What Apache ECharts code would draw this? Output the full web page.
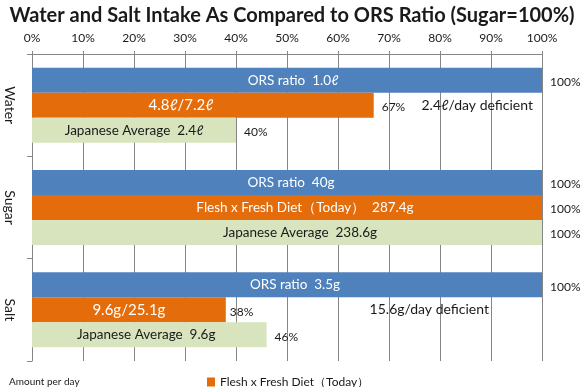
<!DOCTYPE html>
<html>
<head>
<meta charset="utf-8">
<script src="https://cdn.jsdelivr.net/npm/echarts@6/dist/echarts.min.js"></script>
<style>html,body{margin:0;padding:0;background:#fff}#c{width:584px;height:387px}</style>
</head>
<body>
<div id="c"></div>
<script>
const categories = ['Water', 'Sugar', 'Salt'];
const seriesNames = ['ORS ratio', 'Flesh x Fresh Diet（Today）', 'Japanese Average'];
const orsValues = [100, 100, 100];
const dietValues = [67, 100, 38];
const avgValues = [40, 100, 46];
const orsLabels = ['ORS ratio  1.0ℓ', 'ORS ratio  40g', 'ORS ratio  3.5g'];
const dietLabels = ['4.8ℓ/7.2ℓ', 'Flesh x Fresh Diet（Today）  287.4g', '9.6g/25.1g'];
const avgLabels = ['Japanese Average  2.4ℓ', 'Japanese Average  238.6g', 'Japanese Average  9.6g'];
const deficitNotes = ['2.4ℓ/day deficient', '', '15.6g/day deficient'];
const deficitNoteAt = [87.3, null, 77.9];
const tickLabels = ['0%', '10%', '20%', '30%', '40%', '50%', '60%', '70%', '80%', '90%', '100%'];

const FONT = 'Lato';
const colors = ['#4F81BD', '#E46C0A', '#D7E4BD'];
const innerColors = ['#fff', '#fff', '#1a1a1a'];
const innerSizes = [[13.5, 13.5, 13.5], [15, 13.5, 15], [13.5, 13.5, 13.5]];
const innerOffsets = [[6, 4, 8], [-22, 18, 0], [0, 13, -3]];
const outerDistances = [[8, 8, 8], [8, 8, 4], [8, 8, 8]];

const valueSets = [orsValues, dietValues, avgValues];
const labelSets = [orsLabels, dietLabels, avgLabels];

const series = [];
valueSets.forEach((vals, s) => {
  series.push({
    name: seriesNames[s],
    type: 'bar',
    xAxisIndex: 0, yAxisIndex: 0,
    barWidth: 25, barGap: '0%',
    itemStyle: { color: colors[s] },
    silent: true,
    data: vals.map((v, i) => ({
      value: v,
      label: {
        show: true, position: 'inside',
        formatter: labelSets[s][i],
        color: innerColors[s],
        fontFamily: FONT,
        fontSize: innerSizes[s][i],
        offset: [innerOffsets[s][i], 0]
      }
    }))
  });
});
// overlay (transparent) bars carrying the outside percentage labels
valueSets.forEach((vals, s) => {
  const ser = {
    name: seriesNames[s] + ' %',
    type: 'bar',
    xAxisIndex: 1, yAxisIndex: 1,
    barWidth: 25, barGap: '0%',
    itemStyle: { color: 'rgba(0,0,0,0)' },
    silent: true,
    data: vals.map((v, i) => ({
      value: v,
      label: {
        show: true, position: 'right',
        distance: outerDistances[s][i],
        formatter: v + '%',
        color: '#1a1a1a', fontFamily: FONT, fontSize: 12,
        offset: [0, 2]
      }
    }))
  };
  if (s === 1) {
    ser.markPoint = {
      symbol: 'circle', symbolSize: 1,
      itemStyle: { color: 'rgba(0,0,0,0)' },
      silent: true,
      data: deficitNotes.map((t, i) => t ? {
        coord: [deficitNoteAt[i], categories[i]],
        label: { show: true, position: 'inside', formatter: t, color: '#1a1a1a', fontFamily: FONT, fontSize: 14 }
      } : null).filter(Boolean)
    };
  }
  series.push(ser);
});

const chart = echarts.init(document.getElementById('c'), null, { renderer: 'canvas' });
chart.setOption({
  animation: false,
  title: [
    { text: 'Water and Salt Intake As Compared to ORS Ratio (Sugar=100%)', left: 'center', top: 1,
      textStyle: { fontFamily: FONT, fontWeight: 'bold', fontSize: 20, color: '#1a1a1a' } },
    { text: 'Amount per day', left: 4, top: 372,
      textStyle: { fontFamily: FONT, fontWeight: 'normal', fontSize: 10, color: '#1a1a1a' } }
  ],
  legend: {
    data: [seriesNames[1]], left: 202, top: 371,
    icon: 'rect', itemWidth: 8, itemHeight: 9, itemGap: 4,
    textStyle: { fontFamily: FONT, fontSize: 12, color: '#1a1a1a' }
  },
  grid: { left: 32, right: 42, top: 54, bottom: 26, containLabel: false },
  xAxis: [
    { type: 'value', position: 'top', min: 0, max: 100, interval: 10,
      axisLine: { show: true, lineStyle: { color: '#868686' } },
      axisTick: { show: true, length: 3, lineStyle: { color: '#868686' } },
      splitLine: { show: true, lineStyle: { color: '#868686', width: 1 } },
      axisLabel: { margin: 10, fontFamily: FONT, fontSize: 12, color: '#1a1a1a',
        formatter: (v) => tickLabels[Math.round(v / 10)] } },
    { type: 'value', min: 0, max: 100, show: false, gridIndex: 0 }
  ],
  yAxis: [
    { type: 'category', data: categories, inverse: true,
      axisLine: { show: true, lineStyle: { color: '#868686' } },
      axisTick: { show: true, length: 5, lineStyle: { color: '#868686' } },
      axisLabel: { rotate: -90, margin: 15, fontFamily: FONT, fontSize: 14, color: '#1a1a1a' } },
    { type: 'category', data: categories, inverse: true, show: false, gridIndex: 0 }
  ],
  series: series
});
</script>
</body>
</html>
